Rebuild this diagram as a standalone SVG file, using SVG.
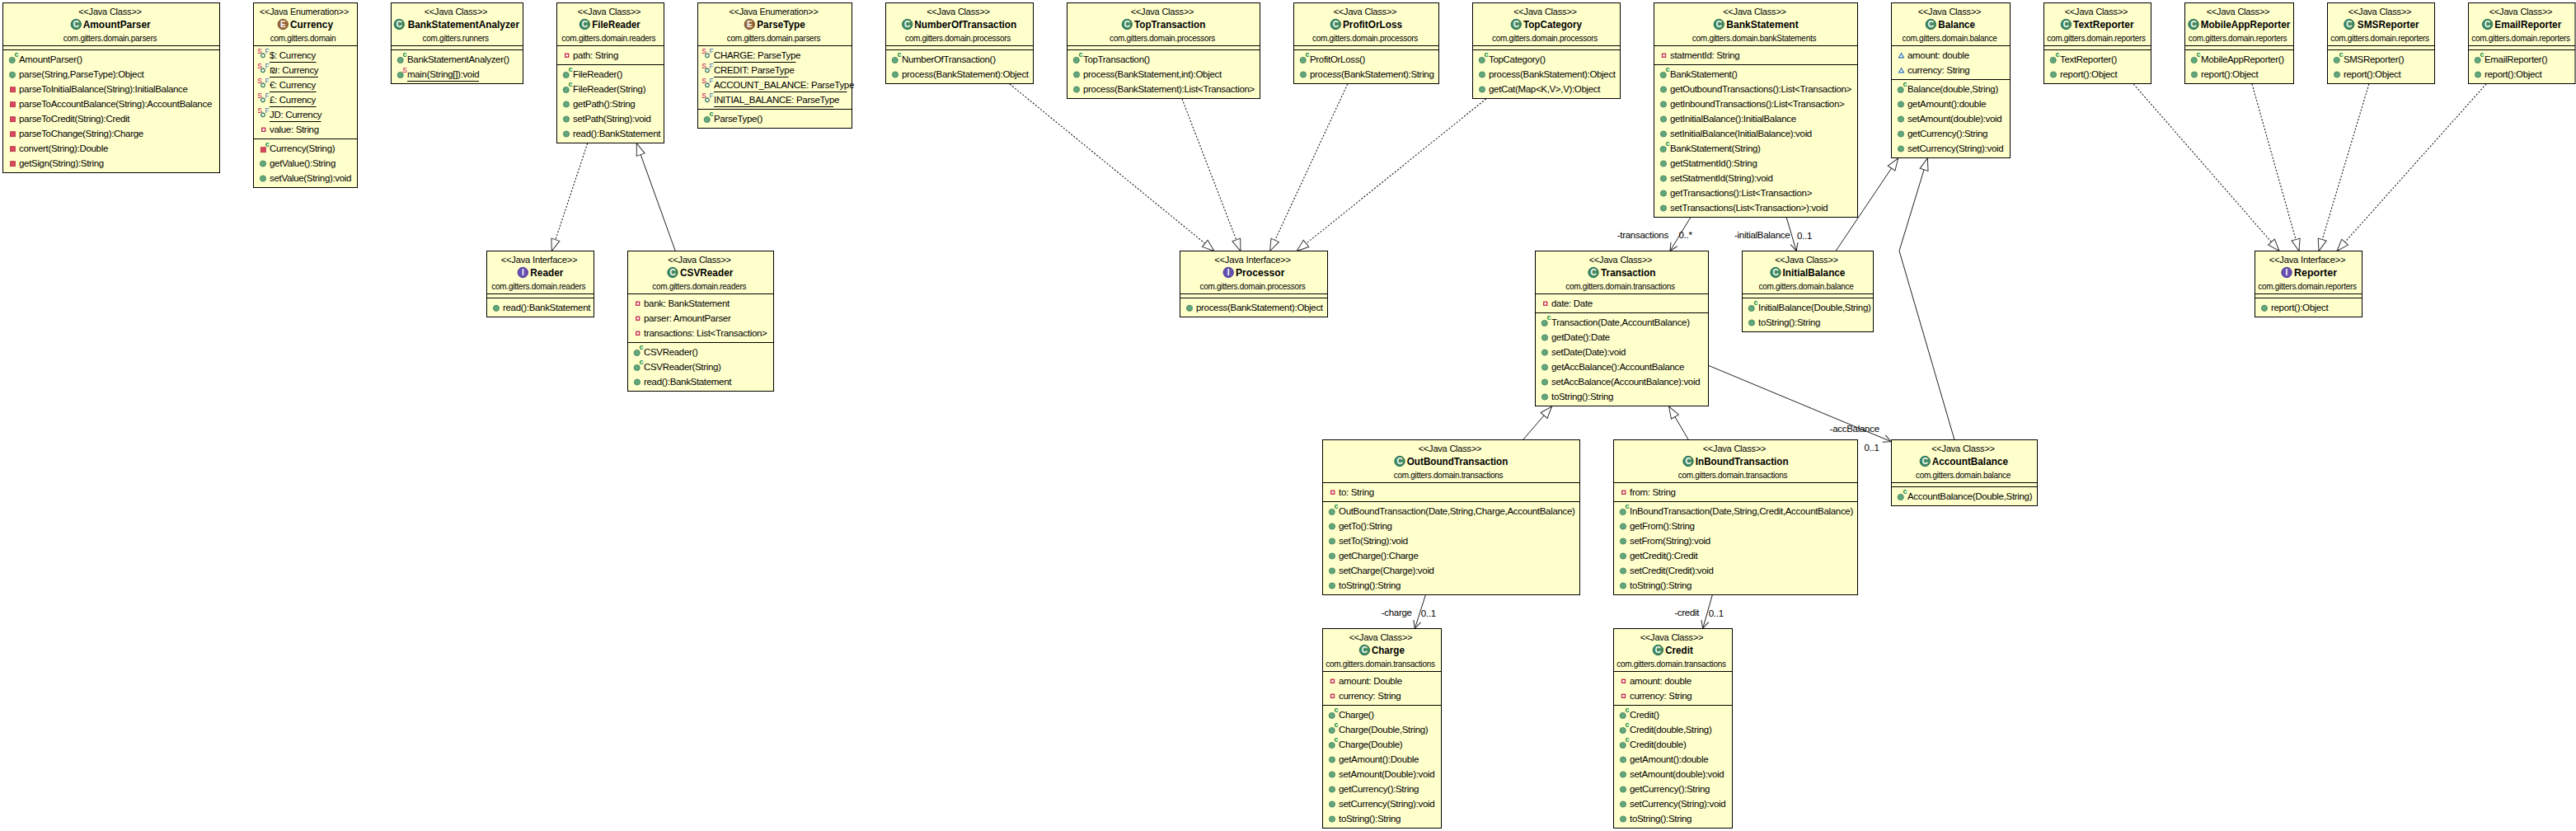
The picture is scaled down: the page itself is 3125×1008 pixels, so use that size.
<svg xmlns="http://www.w3.org/2000/svg" width="3125" height="1008" viewBox="0 0 3125 1008">
<style>
text{font-family:"Liberation Sans","DejaVu Sans",sans-serif;fill:#000}
.b{fill:#ffc;stroke:#000;stroke-width:1}
.s{stroke:#000;stroke-width:1;fill:none}
.st{font-size:11px;letter-spacing:-.2px;text-anchor:middle}
.n{font-size:13px;font-weight:bold}
.p{font-size:10px;letter-spacing:-.28px;text-anchor:middle}
.r{font-size:11.5px;letter-spacing:-.32px}
.l{font-size:11.5px;letter-spacing:-.28px}
.ic{font-size:10px;font-weight:bold;text-anchor:middle;fill:#fff}
.cc{font-size:9px;font-weight:bold;fill:#0a8a3e;text-anchor:middle}
.ss{font-size:8.5px;fill:#c4004e;text-anchor:middle}
.ff{font-size:8.5px;fill:#3a6db5;text-anchor:middle}
.dep{fill:none;stroke:#1a1a1a;stroke-width:1.1;stroke-dasharray:2 2;marker-end:url(#tri)}
.gen{fill:none;stroke:#222;stroke-width:1;marker-end:url(#tri)}
.asc{fill:none;stroke:#222;stroke-width:1;marker-end:url(#open)}
</style>
<defs>
<marker id="tri" markerUnits="userSpaceOnUse" viewBox="-16 -7 17 14" refX="0" refY="0" markerWidth="17" markerHeight="14" orient="auto"><path d="M-14.5-5.2L0 0L-14.5 5.2Z" fill="#fff" stroke="#333" stroke-dasharray="none"/></marker>
<marker id="open" markerUnits="userSpaceOnUse" viewBox="-12 -6 13 12" refX="0" refY="0" markerWidth="13" markerHeight="12" orient="auto"><path d="M-9.5-4.5L0 0L-9.5 4.5" fill="none" stroke="#222" stroke-dasharray="none"/></marker>
<g id="iC"><circle r="6.2" fill="#3f8a62" stroke="#2f7350"/><text class="ic" y="3.6">C</text></g>
<g id="iE"><circle r="6.2" fill="#96673a" stroke="#7d5228"/><text class="ic" y="3.6">E</text></g>
<g id="iI"><circle r="6.2" fill="#6650ad" stroke="#523c99"/><text class="ic" y="3.6">I</text></g>
<circle id="m" cy=".5" r="3.6" fill="#62a67c" stroke="#3f7f5a" stroke-width=".8"/>
<g id="c"><circle cx="-.3" cy="1" r="3.6" fill="#62a67c" stroke="#3f7f5a" stroke-width=".8"/><text class="cc" x="5" y="-2.6">c</text></g>
<g id="ms"><circle cx="-.3" cy="1" r="3.6" fill="#62a67c" stroke="#3f7f5a" stroke-width=".8"/><text class="ss" x="5" y="-2.4">S</text></g>
<g id="sf"><circle r="2.3" cy="0" fill="#fff" stroke="#3f7f5a" stroke-width="1.3"/><text class="ss" x="-4" y="-2">S</text><text class="ff" x="5" y="-2">F</text></g>
<rect id="x" x="-3" y="-2.6" width="6" height="6" fill="#d8485f" stroke="#b92c46" stroke-width=".8"/>
<g id="xc"><rect x="-3" y="-1.6" width="6" height="6" fill="#d8485f" stroke="#b92c46" stroke-width=".8"/><text class="cc" x="5" y="-2.6">c</text></g>
<rect id="f" x="-2" y="-2" width="4" height="4" fill="#fff" stroke="#c8334f" stroke-width="1.4"/>
<path id="t" d="M-3 2.6L0-2.6L3 2.6Z" fill="#fff" stroke="#2f6fb5" stroke-width="1.1"/>
</defs>
<rect width="3125" height="1008" fill="#fff"/>

<g id="connectors">
<path class="dep" d="M712.7 174L669.3 304.5"/>
<path class="gen" d="M819.3 304.5L772.3 174"/>
<path class="dep" d="M1225 102L1473 304.5"/>
<path class="dep" d="M1434 120L1505 304.5"/>
<path class="dep" d="M1634.7 102L1540.6 304.5"/>
<path class="dep" d="M1802.7 120L1573.2 304.5"/>
<path class="dep" d="M2588.3 102L2765 304.5"/>
<path class="dep" d="M2732 102L2789 304.5"/>
<path class="dep" d="M2873.8 102L2813 304.5"/>
<path class="dep" d="M3016 102L2835 304.5"/>
<path class="gen" d="M2227 304.5L2302.7 192"/>
<path class="gen" d="M2371 533.5L2304 304.3L2338.3 192"/>
<path class="gen" d="M1847.5 533.5L1882.6 493"/>
<path class="gen" d="M2048.3 533.5L2024.6 493"/>
<path class="asc" d="M2050.7 264L2025.9 304.5"/>
<path class="asc" d="M2167.3 264L2179.2 304.5"/>
<path class="asc" d="M2072.5 443.3L2294.3 535.7"/>
<path class="asc" d="M1729.3 722L1716.3 762.5"/>
<path class="asc" d="M2077.2 722L2065.7 762.5"/>
<text class="l" x="1961.7" y="288.5">-transactions</text>
<text class="l" x="2036.5" y="289">0..*</text>
<text class="l" x="2104" y="288.5">-initialBalance</text>
<text class="l" x="2180" y="289.5">0..1</text>
<text class="l" x="2219.6" y="523.5">-accBalance</text>
<text class="l" x="2261.5" y="546.5">0..1</text>
<text class="l" x="1675.7" y="747">-charge</text>
<text class="l" x="1723.7" y="747.5">0..1</text>
<text class="l" x="2031.3" y="747">-credit</text>
<text class="l" x="2072.7" y="747.5">0..1</text>
</g>

<g id="AmountParser"><rect class="b" x="3.5" y="3.5" width="263" height="206"/><path class="s" d="M3.5 55.5H266.5M3.5 60.5H266.5"/>
<text class="st" x="133.5" y="17.5">&lt;&lt;Java Class&gt;&gt;</text><use href="#iC" x="92.3" y="29.5"/><text class="n" x="100.7" y="34" textLength="82" lengthAdjust="spacingAndGlyphs">AmountParser</text><text class="p" x="133.5" y="49.5">com.gitters.domain.parsers</text>
<use href="#c" x="15" y="72"/><text class="r" x="23" y="76.3">AmountParser()</text>
<use href="#m" x="15" y="90.3"/><text class="r" x="23" y="94.3">parse(String,ParseType):Object</text>
<use href="#x" x="15.5" y="108.3"/><text class="r" x="23" y="112.3">parseToInitialBalance(String):InitialBalance</text>
<use href="#x" x="15.5" y="126.3"/><text class="r" x="23" y="130.3">parseToAccountBalance(String):AccountBalance</text>
<use href="#x" x="15.5" y="144.3"/><text class="r" x="23" y="148.3">parseToCredit(String):Credit</text>
<use href="#x" x="15.5" y="162.3"/><text class="r" x="23" y="166.3">parseToChange(String):Charge</text>
<use href="#x" x="15.5" y="180.3"/><text class="r" x="23" y="184.3">convert(String):Double</text>
<use href="#x" x="15.5" y="198.3"/><text class="r" x="23" y="202.3">getSign(String):String</text></g>

<g id="Currency"><rect class="b" x="307.5" y="3.5" width="126" height="224"/><path class="s" d="M307.5 55.5H433.5M307.5 168.5H433.5M327 75.5H383.5M327 93.5H386M327 111.5H383.5M327 129.5H383.5M327 147.5H389.5"/>
<text class="st" x="369" y="17.5" textLength="108" lengthAdjust="spacingAndGlyphs">&lt;&lt;Java Enumeration&gt;&gt;</text><use href="#iE" x="343.3" y="29.5"/><text class="n" x="352" y="34" textLength="52" lengthAdjust="spacingAndGlyphs">Currency</text><text class="p" x="367.5" y="49.5">com.gitters.domain</text>
<use href="#sf" x="319" y="67.3"/><text class="r" x="327" y="71.3">$: Currency</text>
<use href="#sf" x="319" y="85.3"/><text class="r" x="327" y="89.3">₪: Currency</text>
<use href="#sf" x="319" y="103.3"/><text class="r" x="327" y="107.3">€: Currency</text>
<use href="#sf" x="319" y="121.3"/><text class="r" x="327" y="125.3">£: Currency</text>
<use href="#sf" x="319" y="139.3"/><text class="r" x="327" y="143.3">JD: Currency</text>
<use href="#f" x="319.7" y="157.3"/><text class="r" x="327" y="161.3">value: String</text>
<use href="#xc" x="319.3" y="180.3"/><text class="r" x="327" y="184.3">Currency(String)</text>
<use href="#m" x="319" y="198"/><text class="r" x="327" y="202.3">getValue():String</text>
<use href="#m" x="319" y="216"/><text class="r" x="327" y="220.3">setValue(String):void</text></g>

<g id="BankStatementAnalyzer"><rect class="b" x="474.5" y="3.5" width="160" height="98"/><path class="s" d="M474.5 55.5H634.5M474.5 60.5H634.5M494 98.5H581"/>
<text class="st" x="553" y="17.5">&lt;&lt;Java Class&gt;&gt;</text><use href="#iC" x="484.3" y="29.5"/><text class="n" x="494.7" y="34" textLength="135.3" lengthAdjust="spacingAndGlyphs">BankStatementAnalyzer</text><text class="p" x="552.7" y="49.5">com.gitters.runners</text>
<use href="#c" x="486" y="72"/><text class="r" x="494" y="76.3">BankStatementAnalyzer()</text>
<use href="#ms" x="486" y="90"/><text class="r" x="494" y="94.3">main(String[]):void</text></g>

<g id="FileReader"><rect class="b" x="675.5" y="3.5" width="130" height="170"/><path class="s" d="M675.5 55.5H805.5M675.5 78.5H805.5"/>
<text class="st" x="739" y="17.5">&lt;&lt;Java Class&gt;&gt;</text><use href="#iC" x="709.3" y="29.5"/><text class="n" x="718.3" y="34" textLength="58.4" lengthAdjust="spacingAndGlyphs">FileReader</text><text class="p" x="738.3" y="49.5">com.gitters.domain.readers</text>
<use href="#f" x="687.7" y="67.3"/><text class="r" x="695" y="71.3">path: String</text>
<use href="#c" x="687" y="90"/><text class="r" x="695" y="94.3">FileReader()</text>
<use href="#c" x="687" y="108"/><text class="r" x="695" y="112.3">FileReader(String)</text>
<use href="#m" x="687" y="126"/><text class="r" x="695" y="130.3">getPath():String</text>
<use href="#m" x="687" y="144"/><text class="r" x="695" y="148.3">setPath(String):void</text>
<use href="#m" x="687" y="162"/><text class="r" x="695" y="166.3">read():BankStatement</text></g>

<g id="ParseType"><rect class="b" x="846.5" y="3.5" width="187" height="152"/><path class="s" d="M846.5 55.5H1033.5M846.5 132.5H1033.5M866 75.5H965.5M866 93.5H956.5M866 111.5H1027.5M866 129.5H1011"/>
<text class="st" x="938.5" y="17.5" textLength="108" lengthAdjust="spacingAndGlyphs">&lt;&lt;Java Enumeration&gt;&gt;</text><use href="#iE" x="909.3" y="29.5"/><text class="n" x="918.3" y="34" textLength="58.4" lengthAdjust="spacingAndGlyphs">ParseType</text><text class="p" x="938.5" y="49.5">com.gitters.domain.parsers</text>
<use href="#sf" x="858" y="67.3"/><text class="r" x="866" y="71.3">CHARGE: ParseType</text>
<use href="#sf" x="858" y="85.3"/><text class="r" x="866" y="89.3">CREDIT: ParseType</text>
<use href="#sf" x="858" y="103.3"/><text class="r" x="866" y="107.3">ACCOUNT_BALANCE: ParseType</text>
<use href="#sf" x="858" y="121.3"/><text class="r" x="866" y="125.3">INITIAL_BALANCE: ParseType</text>
<use href="#c" x="858" y="144"/><text class="r" x="866" y="148.3">ParseType()</text></g>

<g id="NumberOfTransaction"><rect class="b" x="1074.5" y="3.5" width="179" height="98"/><path class="s" d="M1074.5 55.5H1253.5M1074.5 60.5H1253.5"/>
<text class="st" x="1162.5" y="17.5">&lt;&lt;Java Class&gt;&gt;</text><use href="#iC" x="1100.7" y="29.5"/><text class="n" x="1109.3" y="34" textLength="124" lengthAdjust="spacingAndGlyphs">NumberOfTransaction</text><text class="p" x="1162" y="49.5">com.gitters.domain.processors</text>
<use href="#c" x="1086" y="72"/><text class="r" x="1094" y="76.3">NumberOfTransaction()</text>
<use href="#m" x="1086" y="90"/><text class="r" x="1094" y="94.3">process(BankStatement):Object</text></g>

<g id="TopTransaction"><rect class="b" x="1294.5" y="3.5" width="234" height="116"/><path class="s" d="M1294.5 55.5H1528.5M1294.5 60.5H1528.5"/>
<text class="st" x="1410" y="17.5">&lt;&lt;Java Class&gt;&gt;</text><use href="#iC" x="1367.3" y="29.5"/><text class="n" x="1376" y="34" textLength="86.3" lengthAdjust="spacingAndGlyphs">TopTransaction</text><text class="p" x="1410" y="49.5">com.gitters.domain.processors</text>
<use href="#c" x="1306" y="72"/><text class="r" x="1314" y="76.3">TopTransaction()</text>
<use href="#m" x="1306" y="90"/><text class="r" x="1314" y="94.3">process(BankStatement,int):Object</text>
<use href="#m" x="1306" y="108"/><text class="r" x="1314" y="112.3">process(BankStatement):List&lt;Transaction&gt;</text></g>

<g id="ProfitOrLoss"><rect class="b" x="1569.5" y="3.5" width="176" height="98"/><path class="s" d="M1569.5 55.5H1745.5M1569.5 60.5H1745.5"/>
<text class="st" x="1656" y="17.5">&lt;&lt;Java Class&gt;&gt;</text><use href="#iC" x="1620.3" y="29.5"/><text class="n" x="1629" y="34" textLength="72" lengthAdjust="spacingAndGlyphs">ProfitOrLoss</text><text class="p" x="1656" y="49.5">com.gitters.domain.processors</text>
<use href="#c" x="1581" y="72"/><text class="r" x="1589" y="76.3">ProfitOrLoss()</text>
<use href="#m" x="1581" y="90"/><text class="r" x="1589" y="94.3">process(BankStatement):String</text></g>

<g id="TopCategory"><rect class="b" x="1786.5" y="3.5" width="179" height="116"/><path class="s" d="M1786.5 55.5H1965.5M1786.5 60.5H1965.5"/>
<text class="st" x="1874.5" y="17.5">&lt;&lt;Java Class&gt;&gt;</text><use href="#iC" x="1839.3" y="29.5"/><text class="n" x="1848" y="34" textLength="71" lengthAdjust="spacingAndGlyphs">TopCategory</text><text class="p" x="1874" y="49.5">com.gitters.domain.processors</text>
<use href="#c" x="1798" y="72"/><text class="r" x="1806" y="76.3">TopCategory()</text>
<use href="#m" x="1798" y="90"/><text class="r" x="1806" y="94.3">process(BankStatement):Object</text>
<use href="#m" x="1798" y="108"/><text class="r" x="1806" y="112.3">getCat(Map&lt;K,V&gt;,V):Object</text></g>

<g id="BankStatement"><rect class="b" x="2006.5" y="3.5" width="247" height="260"/><path class="s" d="M2006.5 55.5H2253.5M2006.5 78.5H2253.5"/>
<text class="st" x="2128.5" y="17.5">&lt;&lt;Java Class&gt;&gt;</text><use href="#iC" x="2085.3" y="29.5"/><text class="n" x="2094.3" y="34" textLength="87.4" lengthAdjust="spacingAndGlyphs">BankStatement</text><text class="p" x="2128" y="49.5">com.gitters.domain.bankStatements</text>
<use href="#f" x="2018.5" y="67.3"/><text class="r" x="2026" y="71.3">statmentId: String</text>
<use href="#c" x="2018" y="90"/><text class="r" x="2026" y="94.3">BankStatement()</text>
<use href="#m" x="2018" y="108"/><text class="r" x="2026" y="112.3">getOutboundTransactions():List&lt;Transaction&gt;</text>
<use href="#m" x="2018" y="126"/><text class="r" x="2026" y="130.3">getInboundTransactions():List&lt;Transaction&gt;</text>
<use href="#m" x="2018" y="144"/><text class="r" x="2026" y="148.3">getInitialBalance():InitialBalance</text>
<use href="#m" x="2018" y="162"/><text class="r" x="2026" y="166.3">setInitialBalance(InitialBalance):void</text>
<use href="#c" x="2018" y="180"/><text class="r" x="2026" y="184.3">BankStatement(String)</text>
<use href="#m" x="2018" y="198"/><text class="r" x="2026" y="202.3">getStatmentId():String</text>
<use href="#m" x="2018" y="216"/><text class="r" x="2026" y="220.3">setStatmentId(String):void</text>
<use href="#m" x="2018" y="234"/><text class="r" x="2026" y="238.3">getTransactions():List&lt;Transaction&gt;</text>
<use href="#m" x="2018" y="252"/><text class="r" x="2026" y="256.3">setTransactions(List&lt;Transaction&gt;):void</text></g>

<g id="Balance"><rect class="b" x="2294.5" y="3.5" width="144" height="188"/><path class="s" d="M2294.5 55.5H2438.5M2294.5 96.5H2438.5"/>
<text class="st" x="2365" y="17.5">&lt;&lt;Java Class&gt;&gt;</text><use href="#iC" x="2342.3" y="29.5"/><text class="n" x="2351.3" y="34" textLength="44.7" lengthAdjust="spacingAndGlyphs">Balance</text><text class="p" x="2365" y="49.5">com.gitters.domain.balance</text>
<use href="#t" x="2306.5" y="67.3"/><text class="r" x="2314" y="71.3">amount: double</text>
<use href="#t" x="2306.5" y="85.3"/><text class="r" x="2314" y="89.3">currency: String</text>
<use href="#c" x="2306" y="108"/><text class="r" x="2314" y="112.3">Balance(double,String)</text>
<use href="#m" x="2306" y="126"/><text class="r" x="2314" y="130.3">getAmount():double</text>
<use href="#m" x="2306" y="144"/><text class="r" x="2314" y="148.3">setAmount(double):void</text>
<use href="#m" x="2306" y="162"/><text class="r" x="2314" y="166.3">getCurrency():String</text>
<use href="#m" x="2306" y="180"/><text class="r" x="2314" y="184.3">setCurrency(String):void</text></g>

<g id="TextReporter"><rect class="b" x="2479.5" y="3.5" width="130" height="98"/><path class="s" d="M2479.5 55.5H2609.5M2479.5 60.5H2609.5"/>
<text class="st" x="2543" y="17.5">&lt;&lt;Java Class&gt;&gt;</text><use href="#iC" x="2506.4" y="29.5"/><text class="n" x="2515" y="34" textLength="73.7" lengthAdjust="spacingAndGlyphs">TextReporter</text><text class="p" x="2543" y="49.5">com.gitters.domain.reporters</text>
<use href="#c" x="2491" y="72"/><text class="r" x="2499" y="76.3">TextReporter()</text>
<use href="#m" x="2491" y="90"/><text class="r" x="2499" y="94.3">report():Object</text></g>

<g id="MobileAppReporter"><rect class="b" x="2650.5" y="3.5" width="132" height="98"/><path class="s" d="M2650.5 55.5H2782.5M2650.5 60.5H2782.5"/>
<text class="st" x="2715" y="17.5">&lt;&lt;Java Class&gt;&gt;</text><use href="#iC" x="2661" y="29.5"/><text class="n" x="2669.7" y="34" textLength="108.6" lengthAdjust="spacingAndGlyphs">MobileAppReporter</text><text class="p" x="2714.5" y="49.5">com.gitters.domain.reporters</text>
<use href="#c" x="2662" y="72"/><text class="r" x="2670" y="76.3">MobileAppReporter()</text>
<use href="#m" x="2662" y="90"/><text class="r" x="2670" y="94.3">report():Object</text></g>

<g id="SMSReporter"><rect class="b" x="2823.5" y="3.5" width="130" height="98"/><path class="s" d="M2823.5 55.5H2953.5M2823.5 60.5H2953.5"/>
<text class="st" x="2887" y="17.5">&lt;&lt;Java Class&gt;&gt;</text><use href="#iC" x="2849.8" y="29.5"/><text class="n" x="2859.8" y="34" textLength="74.8" lengthAdjust="spacingAndGlyphs">SMSReporter</text><text class="p" x="2887" y="49.5">com.gitters.domain.reporters</text>
<use href="#c" x="2835" y="72"/><text class="r" x="2843" y="76.3">SMSReporter()</text>
<use href="#m" x="2835" y="90"/><text class="r" x="2843" y="94.3">report():Object</text></g>

<g id="EmailReporter"><rect class="b" x="2994.5" y="3.5" width="129.5" height="98"/><path class="s" d="M2994.5 55.5H3124M2994.5 60.5H3124"/>
<text class="st" x="3058" y="17.5">&lt;&lt;Java Class&gt;&gt;</text><use href="#iC" x="3017.6" y="29.5"/><text class="n" x="3026.3" y="34" textLength="81" lengthAdjust="spacingAndGlyphs">EmailReporter</text><text class="p" x="3058" y="49.5">com.gitters.domain.reporters</text>
<use href="#c" x="3006" y="72"/><text class="r" x="3014" y="76.3">EmailReporter()</text>
<use href="#m" x="3006" y="90"/><text class="r" x="3014" y="94.3">report():Object</text></g>

<g id="Reader"><rect class="b" x="590.5" y="304.5" width="130" height="80"/><path class="s" d="M590.5 356.5H720.5M590.5 361.5H720.5"/>
<text class="st" x="654" y="318.5" textLength="92.7" lengthAdjust="spacingAndGlyphs">&lt;&lt;Java Interface&gt;&gt;</text><use href="#iI" x="634.3" y="330.5"/><text class="n" x="643.3" y="335" textLength="40" lengthAdjust="spacingAndGlyphs">Reader</text><text class="p" x="653.3" y="350.5">com.gitters.domain.readers</text>
<use href="#m" x="602" y="373.3"/><text class="r" x="610" y="377.3">read():BankStatement</text></g>

<g id="CSVReader"><rect class="b" x="761.5" y="304.5" width="177" height="170"/><path class="s" d="M761.5 356.5H938.5M761.5 415.5H938.5"/>
<text class="st" x="848.5" y="318.5">&lt;&lt;Java Class&gt;&gt;</text><use href="#iC" x="816" y="330.5"/><text class="n" x="825" y="335" textLength="64.3" lengthAdjust="spacingAndGlyphs">CSVReader</text><text class="p" x="848.3" y="350.5">com.gitters.domain.readers</text>
<use href="#f" x="773.7" y="368.3"/><text class="r" x="781" y="372.3">bank: BankStatement</text>
<use href="#f" x="773.7" y="386.3"/><text class="r" x="781" y="390.3">parser: AmountParser</text>
<use href="#f" x="773.7" y="404.3"/><text class="r" x="781" y="408.3">transactions: List&lt;Transaction&gt;</text>
<use href="#c" x="773" y="427"/><text class="r" x="781" y="431.3">CSVReader()</text>
<use href="#c" x="773" y="445"/><text class="r" x="781" y="449.3">CSVReader(String)</text>
<use href="#m" x="773" y="463"/><text class="r" x="781" y="467.3">read():BankStatement</text></g>

<g id="Processor"><rect class="b" x="1431.5" y="304.5" width="179" height="80"/><path class="s" d="M1431.5 356.5H1610.5M1431.5 361.5H1610.5"/>
<text class="st" x="1519.5" y="318.5" textLength="92.7" lengthAdjust="spacingAndGlyphs">&lt;&lt;Java Interface&gt;&gt;</text><use href="#iI" x="1490.2" y="330.5"/><text class="n" x="1499" y="335" textLength="59.5" lengthAdjust="spacingAndGlyphs">Processor</text><text class="p" x="1519.5" y="350.5">com.gitters.domain.processors</text>
<use href="#m" x="1443" y="373.3"/><text class="r" x="1451" y="377.3">process(BankStatement):Object</text></g>

<g id="Transaction"><rect class="b" x="1862.5" y="304.5" width="210" height="188"/><path class="s" d="M1862.5 356.5H2072.5M1862.5 379.5H2072.5"/>
<text class="st" x="1966" y="318.5">&lt;&lt;Java Class&gt;&gt;</text><use href="#iC" x="1933" y="330.5"/><text class="n" x="1942" y="335" textLength="66.5" lengthAdjust="spacingAndGlyphs">Transaction</text><text class="p" x="1965.5" y="350.5">com.gitters.domain.transactions</text>
<use href="#f" x="1874.7" y="368.3"/><text class="r" x="1882" y="372.3">date: Date</text>
<use href="#c" x="1874" y="391"/><text class="r" x="1882" y="395.3">Transaction(Date,AccountBalance)</text>
<use href="#m" x="1874" y="409"/><text class="r" x="1882" y="413.3">getDate():Date</text>
<use href="#m" x="1874" y="427"/><text class="r" x="1882" y="431.3">setDate(Date):void</text>
<use href="#m" x="1874" y="445"/><text class="r" x="1882" y="449.3">getAccBalance():AccountBalance</text>
<use href="#m" x="1874" y="463"/><text class="r" x="1882" y="467.3">setAccBalance(AccountBalance):void</text>
<use href="#m" x="1874" y="481"/><text class="r" x="1882" y="485.3">toString():String</text></g>

<g id="InitialBalance"><rect class="b" x="2113.5" y="304.5" width="159" height="98"/><path class="s" d="M2113.5 356.5H2272.5M2113.5 361.5H2272.5"/>
<text class="st" x="2191.5" y="318.5">&lt;&lt;Java Class&gt;&gt;</text><use href="#iC" x="2154" y="330.5"/><text class="n" x="2162.6" y="335" textLength="75.8" lengthAdjust="spacingAndGlyphs">InitialBalance</text><text class="p" x="2191" y="350.5">com.gitters.domain.balance</text>
<use href="#c" x="2125" y="373"/><text class="r" x="2133" y="377.3">InitialBalance(Double,String)</text>
<use href="#m" x="2125" y="391"/><text class="r" x="2133" y="395.3">toString():String</text></g>

<g id="Reporter"><rect class="b" x="2735.5" y="304.5" width="130" height="80"/><path class="s" d="M2735.5 356.5H2865.5M2735.5 361.5H2865.5"/>
<text class="st" x="2799" y="318.5" textLength="92.7" lengthAdjust="spacingAndGlyphs">&lt;&lt;Java Interface&gt;&gt;</text><use href="#iI" x="2774" y="330.5"/><text class="n" x="2783" y="335" textLength="52" lengthAdjust="spacingAndGlyphs">Reporter</text><text class="p" x="2799" y="350.5">com.gitters.domain.reporters</text>
<use href="#m" x="2747" y="373.3"/><text class="r" x="2755" y="377.3">report():Object</text></g>

<g id="OutBoundTransaction"><rect class="b" x="1604.5" y="533.5" width="312" height="188"/><path class="s" d="M1604.5 585.5H1916.5M1604.5 608.5H1916.5"/>
<text class="st" x="1759" y="547.5">&lt;&lt;Java Class&gt;&gt;</text><use href="#iC" x="1698" y="559.5"/><text class="n" x="1706.8" y="564" textLength="122.5" lengthAdjust="spacingAndGlyphs">OutBoundTransaction</text><text class="p" x="1757" y="579.5">com.gitters.domain.transactions</text>
<use href="#f" x="1616.7" y="597.3"/><text class="r" x="1624" y="601.3">to: String</text>
<use href="#c" x="1616" y="620"/><text class="r" x="1624" y="624.3">OutBoundTransaction(Date,String,Charge,AccountBalance)</text>
<use href="#m" x="1616" y="638"/><text class="r" x="1624" y="642.3">getTo():String</text>
<use href="#m" x="1616" y="656"/><text class="r" x="1624" y="660.3">setTo(String):void</text>
<use href="#m" x="1616" y="674"/><text class="r" x="1624" y="678.3">getCharge():Charge</text>
<use href="#m" x="1616" y="692"/><text class="r" x="1624" y="696.3">setCharge(Charge):void</text>
<use href="#m" x="1616" y="710"/><text class="r" x="1624" y="714.3">toString():String</text></g>

<g id="InBoundTransaction"><rect class="b" x="1957.5" y="533.5" width="296" height="188"/><path class="s" d="M1957.5 585.5H2253.5M1957.5 608.5H2253.5"/>
<text class="st" x="2104" y="547.5">&lt;&lt;Java Class&gt;&gt;</text><use href="#iC" x="2048" y="559.5"/><text class="n" x="2056.8" y="564" textLength="112.8" lengthAdjust="spacingAndGlyphs">InBoundTransaction</text><text class="p" x="2102" y="579.5">com.gitters.domain.transactions</text>
<use href="#f" x="1969.7" y="597.3"/><text class="r" x="1977" y="601.3">from: String</text>
<use href="#c" x="1969" y="620"/><text class="r" x="1977" y="624.3">InBoundTransaction(Date,String,Credit,AccountBalance)</text>
<use href="#m" x="1969" y="638"/><text class="r" x="1977" y="642.3">getFrom():String</text>
<use href="#m" x="1969" y="656"/><text class="r" x="1977" y="660.3">setFrom(String):void</text>
<use href="#m" x="1969" y="674"/><text class="r" x="1977" y="678.3">getCredit():Credit</text>
<use href="#m" x="1969" y="692"/><text class="r" x="1977" y="696.3">setCredit(Credit):void</text>
<use href="#m" x="1969" y="710"/><text class="r" x="1977" y="714.3">toString():String</text></g>

<g id="AccountBalance"><rect class="b" x="2294.5" y="533.5" width="177" height="80"/><path class="s" d="M2294.5 585.5H2471.5M2294.5 590.5H2471.5"/>
<text class="st" x="2381.5" y="547.5">&lt;&lt;Java Class&gt;&gt;</text><use href="#iC" x="2335.3" y="559.5"/><text class="n" x="2343.7" y="564" textLength="92.3" lengthAdjust="spacingAndGlyphs">AccountBalance</text><text class="p" x="2381.5" y="579.5">com.gitters.domain.balance</text>
<use href="#c" x="2306" y="602"/><text class="r" x="2314" y="606.3">AccountBalance(Double,String)</text></g>

<g id="Charge"><rect class="b" x="1604.5" y="762.5" width="144" height="242"/><path class="s" d="M1604.5 814.5H1748.5M1604.5 855.5H1748.5"/>
<text class="st" x="1675" y="776.5">&lt;&lt;Java Class&gt;&gt;</text><use href="#iC" x="1655.4" y="788.5"/><text class="n" x="1663.9" y="793" textLength="40" lengthAdjust="spacingAndGlyphs">Charge</text><text class="p" x="1674.5" y="808.5">com.gitters.domain.transactions</text>
<use href="#f" x="1616.5" y="826.3"/><text class="r" x="1624" y="830.3">amount: Double</text>
<use href="#f" x="1616.5" y="844.3"/><text class="r" x="1624" y="848.3">currency: String</text>
<use href="#c" x="1616" y="867"/><text class="r" x="1624" y="871.3">Charge()</text>
<use href="#c" x="1616" y="885"/><text class="r" x="1624" y="889.3">Charge(Double,String)</text>
<use href="#c" x="1616" y="903"/><text class="r" x="1624" y="907.3">Charge(Double)</text>
<use href="#m" x="1616" y="921"/><text class="r" x="1624" y="925.3">getAmount():Double</text>
<use href="#m" x="1616" y="939"/><text class="r" x="1624" y="943.3">setAmount(Double):void</text>
<use href="#m" x="1616" y="957"/><text class="r" x="1624" y="961.3">getCurrency():String</text>
<use href="#m" x="1616" y="975"/><text class="r" x="1624" y="979.3">setCurrency(String):void</text>
<use href="#m" x="1616" y="993"/><text class="r" x="1624" y="997.3">toString():String</text></g>

<g id="Credit"><rect class="b" x="1957.5" y="762.5" width="144" height="242"/><path class="s" d="M1957.5 814.5H2101.5M1957.5 855.5H2101.5"/>
<text class="st" x="2028" y="776.5">&lt;&lt;Java Class&gt;&gt;</text><use href="#iC" x="2011.4" y="788.5"/><text class="n" x="2020.2" y="793" textLength="33.6" lengthAdjust="spacingAndGlyphs">Credit</text><text class="p" x="2027.5" y="808.5">com.gitters.domain.transactions</text>
<use href="#f" x="1969.5" y="826.3"/><text class="r" x="1977" y="830.3">amount: double</text>
<use href="#f" x="1969.5" y="844.3"/><text class="r" x="1977" y="848.3">currency: String</text>
<use href="#c" x="1969" y="867"/><text class="r" x="1977" y="871.3">Credit()</text>
<use href="#c" x="1969" y="885"/><text class="r" x="1977" y="889.3">Credit(double,String)</text>
<use href="#c" x="1969" y="903"/><text class="r" x="1977" y="907.3">Credit(double)</text>
<use href="#m" x="1969" y="921"/><text class="r" x="1977" y="925.3">getAmount():double</text>
<use href="#m" x="1969" y="939"/><text class="r" x="1977" y="943.3">setAmount(double):void</text>
<use href="#m" x="1969" y="957"/><text class="r" x="1977" y="961.3">getCurrency():String</text>
<use href="#m" x="1969" y="975"/><text class="r" x="1977" y="979.3">setCurrency(String):void</text>
<use href="#m" x="1969" y="993"/><text class="r" x="1977" y="997.3">toString():String</text></g>
</svg>
